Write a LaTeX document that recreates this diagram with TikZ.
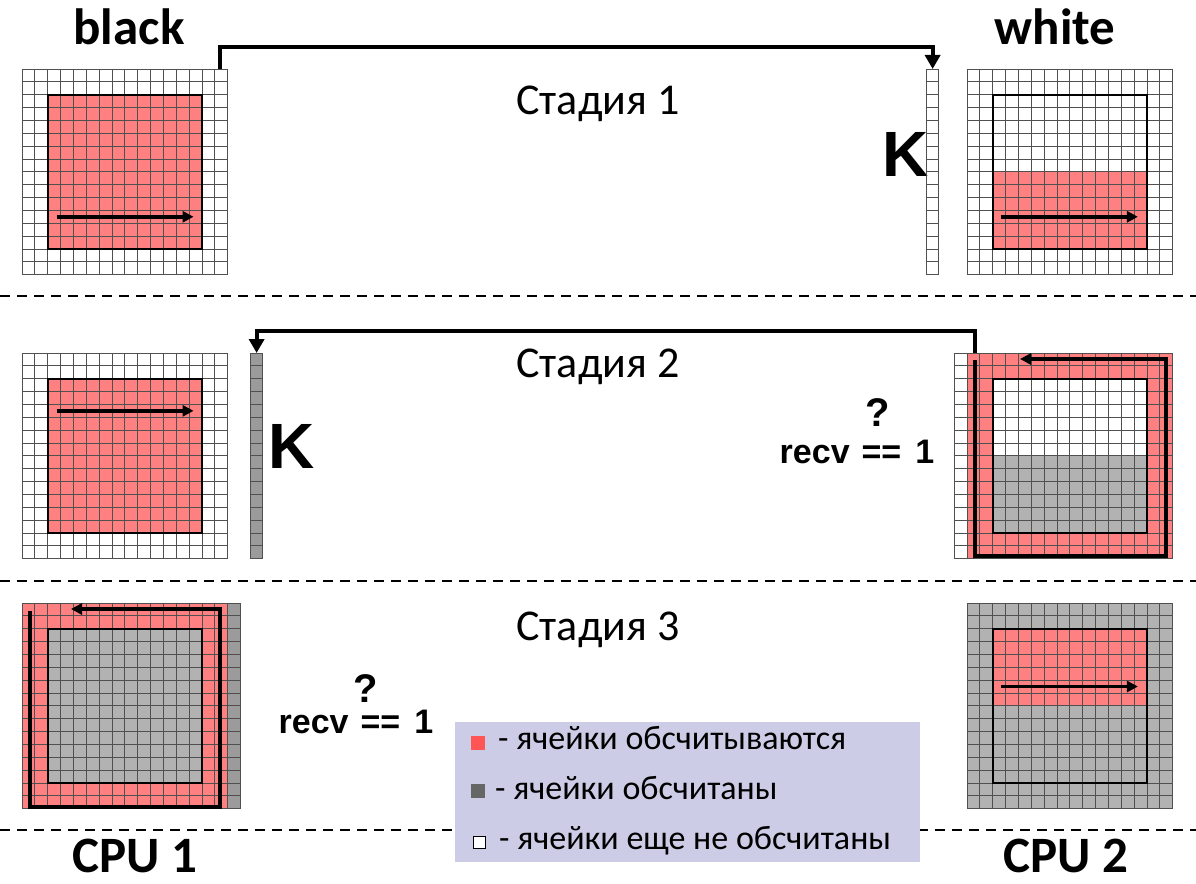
\documentclass[tikz,border=0pt]{standalone}
\usepackage{fontspec}
\setmainfont{Carlito}
\newfontfamily\arialb{Liberation Sans}
\usetikzlibrary{arrows.meta}
\definecolor{redc}{RGB}{255,128,128}
\definecolor{grayc}{RGB}{178,178,178}
\definecolor{graycol}{RGB}{155,155,155}
\definecolor{legbg}{RGB}{204,204,230}
\definecolor{legred}{RGB}{255,85,85}
\definecolor{leggray}{RGB}{102,102,102}
\definecolor{gridc}{RGB}{80,80,80}
\def\cs{12.85}
\newcommand{\cellsgrid}[4]{%
  \foreach \i in {0,...,#3} \draw[gl] ({#1+\i*\cs},#2) -- ++(0,{#4*\cs});
  \foreach \j in {0,...,#4} \draw[gl] (#1,{#2+\j*\cs}) -- ++({#3*\cs},0);
}
\tikzset{
  gl/.style={draw=gridc,line width=0.8pt},
  inner/.style={draw=black,line width=1.6pt},
  flow/.style={line width=3.8pt,-{Triangle[length=11pt,width=11pt]}},
  conn/.style={line width=4pt,-{Triangle[length=14pt,width=15pt]}},
  sep/.style={line width=2pt,dash pattern=on 10pt off 7pt},
  gbox/.style={minimum width=205.6pt,minimum height=205.6pt,inner sep=0pt,anchor=north west},
  kbox/.style={minimum width=12.85pt,minimum height=205.6pt,inner sep=0pt,anchor=north west},
  big/.style={font=\fontsize{51}{53}\selectfont\bfseries,inner sep=0pt,anchor=base},
  stage/.style={font=\fontsize{44}{46}\selectfont},
  kfont/.style={font=\arialb\fontsize{64}{66}\selectfont\bfseries},
  recv/.style={font=\arialb\fontsize{34}{36}\selectfont\bfseries,inner sep=0pt,anchor=base},
  qm/.style={font=\arialb\fontsize{40}{42}\selectfont\bfseries,inner sep=0pt,anchor=base},
  legtxt/.style={font=\fontsize{34}{36}\selectfont,anchor=base west,inner sep=0pt},
}
\begin{document}
\begin{tikzpicture}[x=1pt,y=-1pt]
\useasboundingbox (0,0) rectangle (1196,883);
% ---------- node frames ----------
\node[gbox] (gA) at (22,69) {};
\node[kbox] (kA) at (926,69) {};
\node[gbox] (gB) at (967,69) {};
\node[gbox] (gC) at (22,353) {};
\node[kbox] (kC) at (250,353) {};
\node[kbox] (kD) at (954.15,353) {};
\node[gbox] (gD) at (967,353) {};
\node[gbox] (gE) at (22,603) {};
\node[kbox] (kE) at (227.6,603) {};
\node[gbox] (gF) at (967,603) {};
% ---------- texts ----------
\node[big] (tblack) at (129,45) {black};
\node[big] (twhite) at (1055,45) {white};
\node[stage] (s1) at (598,104) {Стадия 1};
\node[stage] (s2) at (598,367) {Стадия 2};
\node[stage] (s3) at (598,630) {Стадия 3};
\node[kfont] (K1) at (906,154) {K};
\node[kfont] (K2) at (292,446) {K};
\node[qm] (q2) at (878,426) {?};
\node[recv] (r2) at (857,463) {recv\hspace{12pt}==\hspace{14pt}1};
\node[qm] (q3) at (366,702) {?};
\node[recv] (r3) at (356,733) {recv\hspace{12pt}==\hspace{14pt}1};
\node[big] (cpu1) at (135,872) {CPU 1};
\node[big] (cpu2) at (1066,872) {CPU 2};
% ---------- separators ----------
\draw[sep] (0,296) -- (1196,296);
\draw[sep] (0,581) -- (1196,581);
\draw[sep] (0,830) -- (1196,830);
% ---------- stage 1 ----------
\fill[redc] ({22+2*\cs},{69+2*\cs}) rectangle ({22+14*\cs},{69+14*\cs});
\cellsgrid{22}{69}{16}{16}
\draw[inner] ({22+2*\cs},{69+2*\cs}) rectangle ({22+14*\cs},{69+14*\cs});
\draw[flow] ({22+2.7*\cs},{69+11.5*\cs}) -- ({22+13.35*\cs},{69+11.5*\cs});
\cellsgrid{926}{69}{1}{16}
\fill[redc] ({967+2*\cs},{69+8*\cs}) rectangle ({967+14*\cs},{69+14*\cs});
\cellsgrid{967}{69}{16}{16}
\draw[inner] ({967+2*\cs},{69+2*\cs}) rectangle ({967+14*\cs},{69+14*\cs});
\draw[flow] ({967+2.65*\cs},{69+11.5*\cs}) -- ({967+13.3*\cs},{69+11.5*\cs});
\draw[conn] ([xshift=-8.5pt]gA.north east) -- ++(0,-22) -| (kA.north);
% ---------- stage 2 ----------
\fill[redc] ({22+2*\cs},{353+2*\cs}) rectangle ({22+14*\cs},{353+14*\cs});
\cellsgrid{22}{353}{16}{16}
\draw[inner] ({22+2*\cs},{353+2*\cs}) rectangle ({22+14*\cs},{353+14*\cs});
\draw[flow] ({22+2.7*\cs},{353+4.5*\cs}) -- ({22+13.35*\cs},{353+4.5*\cs});
\fill[graycol] (250,353) rectangle ({250+\cs},{353+16*\cs});
\cellsgrid{250}{353}{1}{16}
\fill[redc] (967,353) rectangle ({967+16*\cs},{353+16*\cs});
\fill[white] ({967+2*\cs},{353+2*\cs}) rectangle ({967+14*\cs},{353+8*\cs});
\fill[grayc] ({967+2*\cs},{353+8*\cs}) rectangle ({967+14*\cs},{353+14*\cs});
\cellsgrid{954.15}{353}{17}{16}
\draw[inner] ({967+2*\cs},{353+2*\cs}) rectangle ({967+14*\cs},{353+14*\cs});
\draw[flow] (975,360) -- (975,556) -- (1166,556) -- (1166,359) -- (1020,359);
\draw[conn] ([xshift=8pt]gD.north west) -- ++(0,-22) -| (kC.north);
% ---------- stage 3 ----------
\fill[redc] (22,603) rectangle ({22+16*\cs},{603+16*\cs});
\fill[grayc] ({22+2*\cs},{603+2*\cs}) rectangle ({22+14*\cs},{603+14*\cs});
\fill[graycol] ({22+16*\cs},603) rectangle ({22+17*\cs},{603+16*\cs});
\cellsgrid{22}{603}{17}{16}
\draw[inner] ({22+2*\cs},{603+2*\cs}) rectangle ({22+14*\cs},{603+14*\cs});
\draw[flow] (30,611) -- (30,807) -- (220,807) -- (220,609) -- (71,609);
\fill[grayc] (967,603) rectangle ({967+16*\cs},{603+16*\cs});
\fill[redc] ({967+2*\cs},{603+2*\cs}) rectangle ({967+14*\cs},{603+8*\cs});
\cellsgrid{967}{603}{16}{16}
\draw[inner] ({967+2*\cs},{603+2*\cs}) rectangle ({967+14*\cs},{603+14*\cs});
\draw[flow] ({967+2.65*\cs},{603+6.5*\cs}) -- ({967+13.3*\cs},{603+6.5*\cs});
% ---------- legend ----------
\node[fill=legbg,minimum width=465pt,minimum height=140pt,inner sep=0pt,anchor=north west] (leg) at (455,722) {};
\node[fill=legred,minimum size=14pt,inner sep=0pt] (lr) at (478,743) {};
\node[fill=leggray,minimum size=14pt,inner sep=0pt] (lg) at (478,791) {};
\node[fill=white,draw=black,line width=0.8pt,minimum size=12pt,inner sep=0pt] (lw) at (479,842) {};
\node[legtxt] (l1) at (498,749) {- ячейки обсчитываются};
\node[legtxt] (l2) at (495,799) {- ячейки обсчитаны};
\node[legtxt] (l3) at (499,849) {- ячейки еще не обсчитаны};
\end{tikzpicture}
\end{document}
